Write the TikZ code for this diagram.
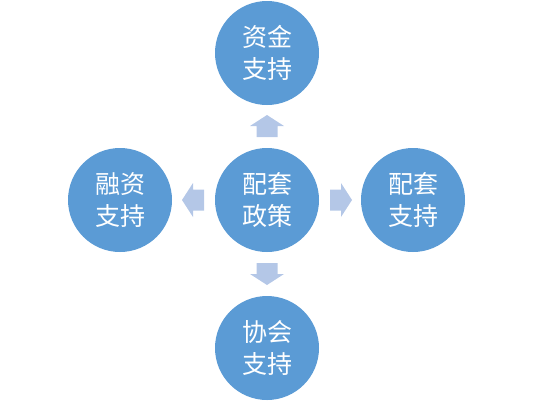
\documentclass[tikz,border=0pt]{standalone}
\usepackage{fontspec}
\newfontfamily\cjk{Noto Sans CJK SC}
\definecolor{circblue}{HTML}{5B9BD5}
\definecolor{arrblue}{HTML}{B4C7E7}
\begin{document}
\begin{tikzpicture}[x=1pt,y=-1pt,
  bubble/.style={circle,fill=circblue,minimum size=104pt,inner sep=0pt,text=white,
    font=\cjk\fontsize{25}{32}\selectfont,align=center},
  blockarrow/.style={fill=arrblue}]
\useasboundingbox (0,0) rectangle (534,400);
\node[bubble] (c) at (267,200) {配套\\政策};
\node[bubble] (t) at (267,53) {资金\\支持};
\node[bubble] (l) at (120,200) {融资\\支持};
\node[bubble] (r) at (413,200) {配套\\支持};
\node[bubble] (b) at (267,348) {协会\\支持};
\foreach \name/\x/\y/\ang in {au/267/126/90, ad/267/274/-90, al/193/200/180, ar/341/200/0}{
  \begin{scope}[shift={(\x,\y)},rotate=\ang]
    \fill[blockarrow] (-11,-10.5) -- (0,-10.5) -- (0,-17) -- (11,0) -- (0,17) -- (0,10.5) -- (-11,10.5) -- cycle;
    \coordinate (\name) at (0,0);
  \end{scope}
}
\end{tikzpicture}
\end{document}
